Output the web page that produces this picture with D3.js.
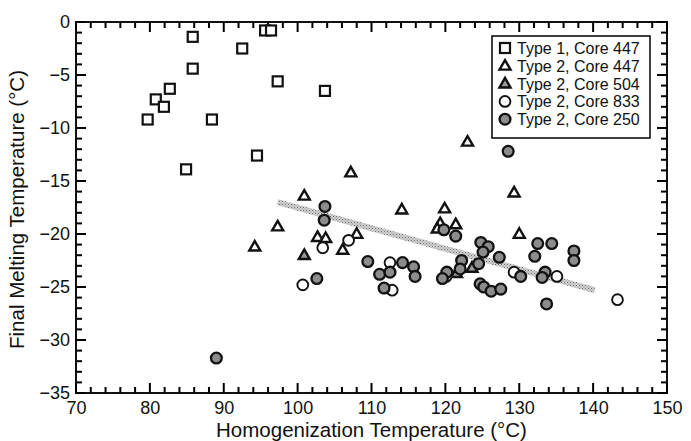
<!DOCTYPE html>
<html lang="en">
<head>
<meta charset="UTF-8">
<title>Final Melting vs Homogenization Temperature</title>
<script src="https://cdnjs.cloudflare.com/ajax/libs/d3/7.8.5/d3.min.js"></script>
<style>
    body { margin: 0; background: #fff; }
    svg text { font-family: 'Liberation Sans', Arial, sans-serif; fill: #111; }
</style>
</head>
<body>
<div id="chart"></div>
<script>
    // Type 1, Core 447 (open squares)
    const type1Core447 = [
        [85.8, -1.4], [92.5, -2.5], [95.6, -0.8], [96.4, -0.8], [85.8, -4.4],
        [97.3, -5.6], [103.7, -6.5], [82.7, -6.3], [80.8, -7.3], [81.9, -8.0],
        [79.7, -9.2], [88.4, -9.2], [94.5, -12.6], [84.9, -13.9]
    ];
    // Type 2, Core 447 (open triangles)
    const type2Core447 = [
        [107.2, -14.2], [100.9, -16.4], [97.3, -19.3], [114.1, -17.7], [119.9, -17.6],
        [119.3, -19.0], [118.9, -19.5], [94.2, -21.2], [102.7, -20.3], [103.8, -20.4],
        [108.0, -20.0], [106.1, -21.5], [123.0, -11.3], [129.3, -16.1], [121.4, -19.1],
        [130.0, -20.0]
    ];
    // Type 2, Core 504 (shaded triangles)
    const type2Core504 = [
        [100.9, -22.0], [123.6, -23.2], [121.5, -23.7]
    ];
    // Type 2, Core 833 (open circles)
    const type2Core833 = [
        [106.9, -20.6], [103.4, -21.3], [112.5, -22.7], [100.7, -24.8], [112.8, -25.3],
        [129.3, -23.6], [135.1, -24.0], [143.3, -26.2], [120.1, -24.0]
    ];
    // Type 2, Core 250 (grey circles)
    const type2Core250 = [
        [103.7, -17.4], [103.6, -18.7], [102.6, -24.2], [109.5, -22.6], [111.1, -23.8],
        [112.5, -23.6], [114.2, -22.7], [115.7, -23.1], [115.9, -24.0], [111.7, -25.1],
        [128.5, -12.2], [119.8, -19.6], [121.4, -20.2], [124.8, -20.8], [125.8, -21.2],
        [125.1, -21.7], [127.3, -22.2], [122.2, -22.5], [124.5, -22.8], [122.0, -23.3],
        [120.2, -23.6], [119.6, -24.2], [124.7, -24.7], [125.2, -25.0], [126.2, -25.4],
        [127.5, -25.2], [132.5, -20.9], [134.4, -20.9], [132.1, -22.1], [137.4, -21.6],
        [137.4, -22.5], [130.2, -24.0], [133.5, -23.6], [133.1, -24.1], [133.7, -26.6],
        [89.0, -31.7]
    ];
    // regression band end points
    const trendX = [97.3, 140.2];
    const trendY = [-17.0, -25.3];

    const legendLabels = ['Type 1, Core 447', 'Type 2, Core 447', 'Type 2, Core 504',
                          'Type 2, Core 833', 'Type 2, Core 250'];
    const xTicks = d3.range(70, 151, 10);
    const yTicks = d3.range(-35, 1, 5);
    const xMinor = d3.range(72, 150, 2).filter(v => v % 10 !== 0);
    const yMinor = d3.range(-34, 0, 1).filter(v => v % 5 !== 0);

    const W = 691, H = 441;
    const plotL = 76, plotR = 667, plotT = 22, plotB = 393;
    const FONT = "'Liberation Sans', Arial, sans-serif";

    const svg = d3.select('#chart').append('svg')
        .attr('width', W).attr('height', H);

    const defs = svg.append('defs');
    const pat = defs.append('pattern')
        .attr('id', 'stipple')
        .attr('patternUnits', 'userSpaceOnUse')
        .attr('width', 3).attr('height', 3);
    pat.append('rect').attr('width', 3).attr('height', 3).attr('fill', '#d0d0d0');
    pat.append('rect').attr('width', 1).attr('height', 1).attr('fill', '#707070');
    pat.append('rect').attr('x', 1.5).attr('y', 1.5).attr('width', 1).attr('height', 1).attr('fill', '#909090');

    const x = d3.scaleLinear().domain([70, 150]).range([plotL, plotR]);
    const y = d3.scaleLinear().domain([-35, 0]).range([plotB, plotT]);

    // tick labels
    svg.append('g').attr('transform', `translate(0,${plotB})`)
        .call(d3.axisBottom(x).tickValues(xTicks).tickSize(0).tickPadding(8))
        .call(a => a.select('.domain').remove())
        .selectAll('text').attr('font-size', 18).style('font-family', FONT).attr('fill', '#111');
    svg.append('g').attr('transform', `translate(${plotL},0)`)
        .call(d3.axisLeft(y).tickValues(yTicks).tickSize(0).tickPadding(6))
        .call(a => a.select('.domain').remove())
        .selectAll('text').attr('font-size', 18).style('font-family', FONT).attr('fill', '#111');

    // frame
    svg.append('rect').attr('x', plotL).attr('y', plotT)
        .attr('width', plotR - plotL).attr('height', plotB - plotT)
        .attr('fill', 'none').attr('stroke', '#111').attr('stroke-width', 2);

    // inward ticks on all four sides as thin filled rects
    const tk = svg.append('g').attr('fill', '#000');
    function xTickRects(vals, len) {
        tk.selectAll(null).data(vals).enter().append('rect')
            .attr('x', d => x(d) - 1).attr('y', plotB - len).attr('width', 2).attr('height', len);
        tk.selectAll(null).data(vals).enter().append('rect')
            .attr('x', d => x(d) - 1).attr('y', plotT).attr('width', 2).attr('height', len);
    }
    function yTickRects(vals, len) {
        tk.selectAll(null).data(vals).enter().append('rect')
            .attr('x', plotL).attr('y', d => y(d) - 1).attr('width', len).attr('height', 2);
        tk.selectAll(null).data(vals).enter().append('rect')
            .attr('x', plotR - len).attr('y', d => y(d) - 1).attr('width', len).attr('height', 2);
    }
    xTickRects(xTicks, 10);
    xTickRects(xMinor, 6);
    yTickRects(yTicks, 10);
    yTickRects(yMinor, 6);

    // trend band
    svg.append('line')
        .attr('x1', x(trendX[0])).attr('y1', y(trendY[0]))
        .attr('x2', x(trendX[1])).attr('y2', y(trendY[1]))
        .attr('stroke', 'url(#stipple)').attr('stroke-width', 6);

    // marker painters
    const sq = 10;
    function square(sel, cx, cy) {
        sel.append('rect').attr('x', cx - sq / 2).attr('y', cy - sq / 2)
            .attr('width', sq).attr('height', sq)
            .attr('fill', '#fff').attr('stroke', '#111').attr('stroke-width', 2.2);
    }
    function triangle(sel, cx, cy, fill) {
        const s = 11, h = s * 0.87;
        sel.append('path')
            .attr('d', `M${cx},${cy - h * 0.6} L${cx + s / 2},${cy + h * 0.4} L${cx - s / 2},${cy + h * 0.4} Z`)
            .attr('fill', fill).attr('stroke', '#111').attr('stroke-width', 2.4)
            .attr('stroke-linejoin', 'miter');
    }
    function circle(sel, cx, cy, fill) {
        sel.append('circle').attr('cx', cx).attr('cy', cy).attr('r', 5.4)
            .attr('fill', fill).attr('stroke', '#111').attr('stroke-width', fill === '#fff' ? 1.9 : 2.3);
    }

    const painters = [
        (s, a, b) => square(s, a, b),
        (s, a, b) => triangle(s, a, b, '#fff'),
        (s, a, b) => triangle(s, a, b, '#9a9a9a'),
        (s, a, b) => circle(s, a, b, '#fff'),
        (s, a, b) => circle(s, a, b, '#8c8c8c')
    ];
    const seriesList = [type1Core447, type2Core447, type2Core504, type2Core833, type2Core250];

    const pts = svg.append('g');
    seriesList.forEach((data, i) => {
        data.forEach(d => painters[i](pts, x(d[0]), y(d[1])));
    });

    // legend
    const lg = svg.append('g').attr('transform', 'translate(492,36)');
    lg.append('rect').attr('width', 158).attr('height', 102)
        .attr('fill', '#fff').attr('stroke', '#111').attr('stroke-width', 1.6);
    legendLabels.forEach((lab, i) => {
        const cy = 12 + i * 17.8;
        painters[i](lg, 13, cy);
        lg.append('text').attr('x', 25).attr('y', cy + 6)
            .attr('font-size', 16).text(lab);
    });

    // axis titles
    svg.append('text')
        .attr('x', (plotL + plotR) / 2).attr('y', 437)
        .attr('text-anchor', 'middle').attr('font-size', 20.5)
        .text('Homogenization Temperature (°C)');
    svg.append('text')
        .attr('transform', `translate(24,${(plotT + plotB) / 2 + 2}) rotate(-90)`)
        .attr('text-anchor', 'middle').attr('font-size', 20.5)
        .text('Final Melting Temperature (°C)');
</script>
</body>
</html>
